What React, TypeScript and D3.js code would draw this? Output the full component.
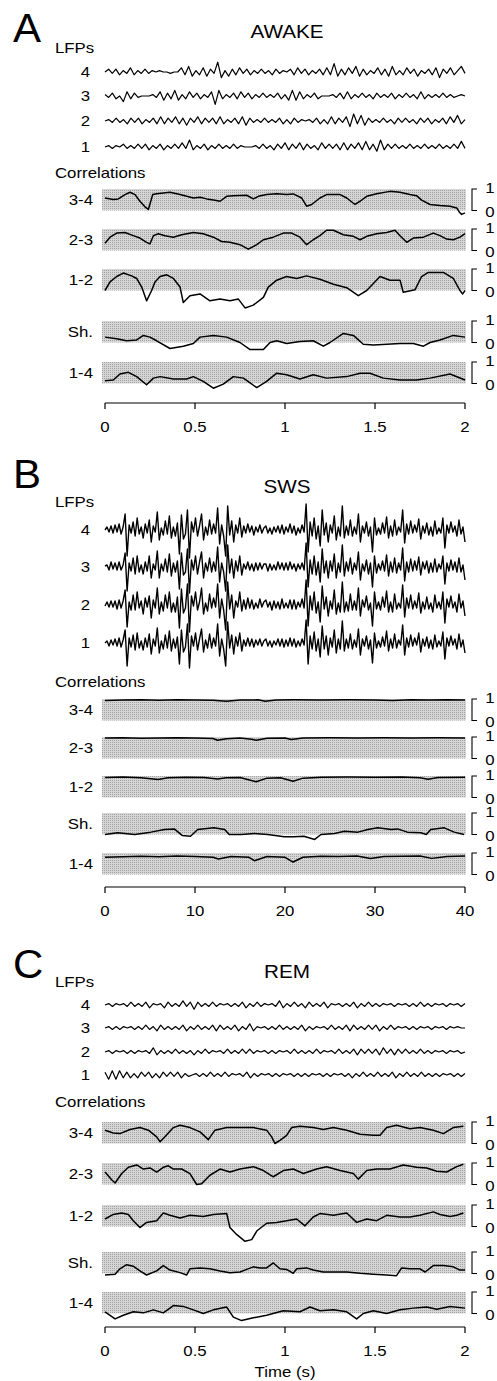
import React from "react";
import * as d3 from "d3";

const FONT = "'Liberation Sans', Arial, Helvetica, sans-serif";

// ---------- Panel A (AWAKE) LFP traces (relative amplitude) ----------
const lfpA4 = [0,2,-1,2,-2,1,-1,3,-2,1,-1,2,-1,1,0,1,0,0,-1,0,0,3,-2,4,-3,1,-2,3,-3,2,-1,7,-4,1,-3,2,-2,3,-1,2,-2,1,-1,2,-1,1,-2,2,-1,1,0,2,-2,3,-1,2,-2,1,-1,2,-2,3,-2,6,-3,2,-2,3,-1,4,-3,2,-2,1,-1,3,-2,2,-3,4,-2,1,-2,3,-1,2,-3,1,-1,2,-2,3,-4,2,-1,3,-2,1,4,-1];
const lfpA3 = [1,-1,2,-2,0,-4,3,-2,2,-1,0,0,0,1,-1,3,-3,2,-2,4,-3,1,-2,3,-1,2,-2,1,-1,3,-6,4,-2,1,-1,2,-2,3,-1,2,-2,1,-1,2,-1,1,-1,2,-2,1,-3,4,-3,3,-2,1,-1,2,-2,0,0,0,1,-1,2,-2,3,-2,1,-1,2,-1,1,-2,2,-1,1,-1,2,-2,1,-1,2,-1,1,-2,3,-2,1,-1,1,-1,2,-1,1,-1,0,1,0];
const lfpA2 = [0,1,-1,2,-1,1,-2,2,-1,2,-2,1,-1,2,-2,3,-2,2,-1,3,-2,2,-3,2,-1,3,-2,2,-1,2,-2,3,-2,1,-1,2,-2,3,-3,2,-1,1,-1,2,-1,1,-1,2,-2,1,-2,2,-1,1,0,1,-1,2,-2,1,-2,3,-2,2,-1,3,-4,5,-2,4,-3,2,-1,1,-1,2,-1,1,-2,2,-1,2,-1,1,-2,2,-1,2,-2,1,-1,2,-2,3,-1,4,-2,1];
const lfpA1 = [0,1,-1,1,0,2,-1,1,-1,2,-1,2,-2,1,-1,2,-2,1,-1,2,-1,3,-1,5,-2,1,-1,2,-2,1,-1,2,-1,1,-1,2,-1,1,0,0,0,1,-1,2,-1,1,-2,2,-1,3,-2,2,-1,3,-2,2,-1,1,-2,3,-1,2,-1,2,-2,3,-2,2,-1,3,-2,4,-2,2,-3,5,-2,2,-1,2,-1,1,-1,2,-1,1,-1,2,-1,1,-1,2,-1,1,-1,2,-1,4,-1];

// ---------- Panel A correlations [time (s), r] ----------
const corrA34 = [[0,0.58],[0.046,0.51],[0.074,0.54],[0.111,0.74],[0.139,0.85],[0.167,0.74],[0.194,0.43],[0.222,0.17],[0.241,0.05],[0.265,0.74],[0.287,0.78],[0.361,0.85],[0.417,0.74],[0.454,0.66],[0.491,0.58],[0.528,0.62],[0.565,0.54],[0.611,0.48],[0.639,0.43],[0.676,0.66],[0.713,0.69],[0.787,0.71],[0.824,0.54],[0.852,0.66],[0.898,0.74],[0.954,0.78],[1.009,0.74],[1.046,0.77],[1.093,0.58],[1.12,0.2],[1.148,0.28],[1.194,0.58],[1.231,0.74],[1.306,0.74],[1.343,0.58],[1.389,0.28],[1.417,0.43],[1.454,0.66],[1.509,0.78],[1.583,0.89],[1.639,0.85],[1.694,0.74],[1.731,0.69],[1.759,0.48],[1.806,0.28],[1.861,0.23],[1.917,0.2],[1.954,0.12],[1.969,-0.08],[1.981,-0.18],[2.0,-0.11]];
const corrA23 = [[0,0.34],[0.028,0.62],[0.065,0.81],[0.111,0.84],[0.157,0.69],[0.194,0.58],[0.231,0.38],[0.25,0.31],[0.269,0.69],[0.296,0.78],[0.333,0.69],[0.38,0.62],[0.426,0.73],[0.491,0.84],[0.546,0.78],[0.602,0.62],[0.648,0.42],[0.694,0.38],[0.75,0.27],[0.796,0.06],[0.843,0.27],[0.88,0.5],[0.935,0.62],[0.991,0.81],[1.037,0.81],[1.083,0.62],[1.12,0.27],[1.157,0.5],[1.194,0.69],[1.231,0.94],[1.269,0.94],[1.324,0.73],[1.38,0.66],[1.417,0.5],[1.454,0.66],[1.509,0.78],[1.565,0.84],[1.611,0.94],[1.639,0.69],[1.676,0.38],[1.713,0.58],[1.769,0.62],[1.824,0.81],[1.861,0.69],[1.898,0.53],[1.935,0.5],[1.972,0.62],[2.0,0.78]];
const corrA12 = [[0,0.0],[0.028,0.4],[0.065,0.65],[0.102,0.81],[0.148,0.68],[0.176,0.56],[0.204,0.16],[0.231,-0.48],[0.259,0.0],[0.278,0.4],[0.306,0.65],[0.343,0.73],[0.38,0.56],[0.417,0.16],[0.435,-0.56],[0.472,-0.24],[0.528,-0.16],[0.583,-0.48],[0.639,-0.4],[0.694,-0.48],[0.741,-0.4],[0.778,-0.81],[0.824,-0.68],[0.88,-0.32],[0.907,0.16],[0.954,0.48],[1.009,0.65],[1.065,0.56],[1.12,0.68],[1.194,0.52],[1.269,0.29],[1.343,0.13],[1.407,-0.24],[1.454,0.0],[1.528,0.65],[1.583,0.48],[1.639,0.48],[1.657,-0.08],[1.722,0.03],[1.759,0.65],[1.796,0.84],[1.88,0.84],[1.935,0.56],[1.972,0.0],[1.987,-0.16],[2.0,0.0]];
const corrASh = [[0,0.25],[0.065,0.17],[0.12,0.08],[0.176,0.12],[0.213,0.33],[0.25,0.25],[0.287,0.08],[0.361,-0.28],[0.435,-0.17],[0.491,-0.05],[0.528,0.25],[0.602,0.33],[0.676,0.25],[0.75,0.0],[0.806,-0.33],[0.88,-0.33],[0.917,0.0],[0.954,0.08],[1.009,-0.05],[1.083,0.05],[1.157,0.08],[1.213,-0.17],[1.25,0.0],[1.324,0.42],[1.38,0.33],[1.435,-0.08],[1.491,-0.12],[1.565,-0.08],[1.639,-0.05],[1.713,-0.05],[1.769,-0.17],[1.806,0.0],[1.861,0.12],[1.935,0.33],[2.0,0.25]];
const corrA14 = [[0,0.13],[0.046,0.16],[0.083,0.44],[0.13,0.52],[0.176,0.32],[0.231,-0.06],[0.269,0.25],[0.306,0.32],[0.38,0.21],[0.454,0.21],[0.491,0.32],[0.546,0.1],[0.602,-0.22],[0.657,-0.03],[0.713,0.32],[0.769,0.25],[0.843,-0.19],[0.898,0.1],[0.954,0.48],[1.009,0.41],[1.083,0.21],[1.157,0.41],[1.231,0.25],[1.343,0.32],[1.417,0.48],[1.472,0.48],[1.546,0.25],[1.639,0.16],[1.731,0.16],[1.806,0.25],[1.917,0.44],[2.0,0.16]];

// ---------- Panel B (SWS) LFP traces ----------
const lfpB4 = [
  0,3,-2,4,-3,5,-2,6,-4,3, 16,-26,5,-3,8,-6,12,-4,3,-8, 6,-3,10,-12,4,-2,18,-10,2,-5,
  9,-4,14,-8,3,-6,7,-24,15,-9, -4,20,-28,8,-2,12,-6,4,16,-10, 3,-5,10,-4,6,-3,22,-14,5,-6,
  -26,24,-5,9,-12,5,-3,12,-7,4, -3,6,-2,4,-5,3,-2,5,-3,2, 4,-3,2,-4,3,-2,4,-3,5,-4,
  3,-2,6,-3,4,-5,2,-3,5,-2, 26,-22,8,-6,12,-9,4,-16,20,-5, 7,-12,5,-3,14,-10,3,-6,24,-8,
  4,-5,10,-6,3,-4,16,-12,4,-3, 8,-6,3,-22,12,-5,2,-4,7,-3, 13,-8,4,-6,10,-5,3,-2,20,-13,
  6,-4,9,-3,5,-2,11,-9,4,-3, 7,-5,3,-6,9,-4,2,-3,12,-18, 5,-3,8,-2,4,-6,10,-4,3,-12];
const lfpB3 = [
  1,2,-3,5,-2,4,-3,5,-3,2, 14,-24,4,-4,9,-7,11,-5,2,-7, 5,-4,11,-11,3,-3,16,-11,3,-4,
  8,-5,13,-9,4,-5,6,-22,14,-8, -5,18,-26,7,-3,11,-7,5,15,-11, 4,-4,9,-5,5,-4,20,-15,4,-5,
  -24,22,-6,8,-11,6,-4,11,-8,3, -2,5,-3,3,-4,4,-3,4,-2,3, 3,-4,3,-3,2,-3,5,-2,4,-3,
  4,-3,5,-2,3,-4,3,-2,4,-3, 24,-20,7,-7,11,-8,5,-15,18,-6, 6,-11,6,-4,13,-11,4,-5,22,-9,
  5,-4,9,-7,4,-3,15,-13,3,-4, 7,-7,4,-20,11,-6,3,-3,6,-4, 12,-9,5,-5,9,-6,4,-3,19,-14,
  5,-5,8,-4,6,-3,10,-8,5,-2, 6,-6,4,-5,8,-5,3,-2,11,-17, 4,-4,7,-3,5,-5,9,-5,2,-13];
const lfpB2 = [
  -1,3,-2,4,-2,4,-4,5,-3,4, 15,-22,3,-5,10,-5,13,-3,4,-9, 7,-2,9,-13,5,-3,17,-9,3,-6,
  10,-3,13,-7,2,-7,8,-23,16,-8, -3,21,-27,9,-1,13,-5,3,17,-9, 2,-6,11,-3,7,-2,21,-13,6,-5,
  -25,23,-4,10,-13,4,-2,13,-6,5, -4,7,-3,5,-4,2,-3,6,-2,3, 5,-2,3,-5,4,-3,3,-4,6,-3,
  2,-3,5,-4,5,-4,3,-2,6,-3, 25,-21,9,-5,13,-8,3,-17,19,-4, 8,-11,4,-4,15,-9,2,-7,23,-7,
  3,-6,11,-5,4,-5,17,-11,5,-2, 9,-5,2,-21,13,-4,3,-5,8,-2, 14,-7,3,-7,11,-4,2,-3,20,-12,
  7,-3,10,-4,4,-3,12,-8,3,-4, 8,-4,2,-7,10,-3,3,-4,13,-18, 6,-2,9,-3,3,-7,11,-3,4,-11];
const lfpB1 = [
  0,2,-3,3,-2,4,-3,5,-4,3, 13,-23,5,-4,8,-7,10,-5,2,-7, 5,-4,9,-11,4,-3,15,-10,2,-6,
  8,-5,12,-8,4,-5,6,-21,13,-9, -4,19,-25,7,-3,10,-7,4,14,-9, 3,-5,9,-5,5,-3,19,-13,4,-6,
  -23,21,-5,8,-11,6,-3,10,-8,3, -3,5,-3,4,-4,3,-2,4,-3,2, 4,-3,2,-4,2,-2,4,-3,4,-4,
  3,-3,5,-3,4,-4,2,-3,4,-2, 23,-21,7,-6,11,-8,4,-14,17,-6, 7,-12,5,-4,13,-10,4,-6,22,-8,
  4,-5,9,-6,3,-4,14,-12,4,-3, 7,-6,3,-20,10,-5,2,-4,6,-3, 12,-8,4,-5,9,-5,3,-2,18,-12,
  5,-4,8,-3,5,-2,10,-9,4,-3, 6,-5,3,-6,8,-4,2,-3,11,-16, 5,-3,7,-2,4,-6,9,-4,3,-10];

// ---------- Panel B correlations [time (s), r] ----------
const corrB34 = [[0,0.93],[2,0.95],[4,0.96],[6,0.94],[8,0.96],[10,0.95],[12,0.94],[13.5,0.9],[15,0.95],[17,0.96],[17.8,0.9],[19,0.95],[21,0.96],[24,0.95],[27,0.96],[30,0.95],[32,0.93],[34,0.96],[36,0.95],[38,0.96],[40,0.95]];
const corrB23 = [[0,0.95],[2,0.96],[4,0.94],[6,0.95],[8,0.96],[10,0.95],[12,0.93],[12.5,0.85],[13.5,0.92],[15,0.95],[16.3,0.9],[16.8,0.85],[18,0.94],[20,0.95],[20.7,0.88],[22,0.95],[25,0.96],[28,0.95],[31,0.96],[34,0.95],[37,0.96],[40,0.95]];
const corrB12 = [[0,0.93],[2,0.95],[4,0.92],[5.9,0.84],[7,0.92],[9,0.94],[11,0.93],[12.5,0.86],[13.5,0.92],[15,0.93],[16.8,0.73],[18,0.9],[19.5,0.92],[20.9,0.76],[22,0.9],[24,0.94],[27,0.95],[30,0.94],[33,0.95],[35,0.92],[35.9,0.85],[37,0.93],[40,0.94]];
const corrBSh = [[0,0.0],[1.4,0.08],[3.3,0.0],[5.1,0.11],[6.6,0.23],[7.7,0.26],[8.6,-0.05],[9.5,-0.08],[10.3,0.23],[12.1,0.31],[13.3,0.23],[13.8,0.0],[15.1,0.0],[16.6,0.05],[18.1,0.0],[19.9,-0.11],[21.0,-0.11],[22.1,-0.08],[23.3,-0.23],[24.0,0.0],[25.5,0.05],[26.6,0.15],[28.1,0.11],[29.2,0.23],[30.3,0.31],[31.8,0.23],[32.5,0.26],[33.6,0.11],[35.1,0.08],[35.7,0.0],[36.2,0.23],[37.7,0.31],[38.8,0.11],[39.9,0.0]];
const corrB14 = [[0,0.8],[2,0.83],[4,0.85],[6,0.82],[8,0.86],[10,0.84],[12,0.8],[12.6,0.72],[14,0.84],[16,0.8],[16.6,0.64],[18,0.84],[20,0.8],[20.9,0.58],[22,0.8],[24,0.85],[26,0.84],[28,0.86],[29.5,0.74],[31,0.84],[33,0.85],[35,0.86],[36.3,0.75],[38,0.84],[40,0.86]];

// ---------- Panel C (REM) LFP traces ----------
const lfpC4 = [0,1,-1,1,0,1,-1,2,-1,1,-1,2,-2,1,0,1,-2,2,-1,1,-1,3,-1,2,-3,2,-1,1,-1,2,-1,1,0,1,-1,1,-1,2,-2,1,-1,2,-1,1,0,1,-1,3,-2,1,-1,2,-1,1,-2,2,-1,1,-1,2,-2,1,0,1,-1,1,-1,2,-2,1,-1,2,-1,1,-1,1,0,1,-1,1,0,1,-1,1,-1,2,-1,1,-1,1,0,1,-1,1,0,1,-1,1];
const lfpC3 = [0,1,-1,1,-1,1,0,1,-1,1,-1,2,-1,1,-2,2,-1,1,-1,1,-1,2,-2,1,-1,2,-1,1,-1,2,-2,2,-1,1,-1,2,-2,1,-1,3,-2,1,0,1,-1,1,-1,2,-1,1,-1,1,-1,2,-2,1,-1,1,0,1,-1,2,-1,1,-1,2,-2,2,-1,1,-1,2,-1,2,-2,1,-1,2,-1,1,0,1,-1,1,-1,1,0,1,-1,1,0,1,-1,1,0,1,0,0];
const lfpC2 = [0,1,-1,1,0,1,-1,1,-1,1,0,1,-1,3,-2,1,-1,1,-1,2,-1,1,-1,1,-2,1,-1,2,-1,1,0,1,-1,2,-1,1,-1,2,-1,2,-1,1,0,1,-1,1,-1,1,0,1,-1,2,-1,1,-1,1,-1,2,-1,1,0,1,-1,2,-1,1,-1,2,-2,2,-1,2,-1,2,-2,3,-1,2,-2,2,-1,2,-1,1,-1,2,-1,1,-1,1,0,1,-1,1,0,1,-1,0];
const lfpC1 = [2,-3,3,-3,3,-2,2,-2,1,-2,2,-1,2,-2,1,-2,2,-1,2,-1,2,-2,1,-1,0,1,-1,1,-1,2,-1,1,-1,2,-1,1,0,1,-1,2,-2,1,-1,1,0,1,-1,1,-1,1,0,1,-1,1,-1,1,-1,1,0,1,-1,1,-1,1,0,1,-1,1,-2,1,-1,2,-1,1,-1,2,-1,1,-1,2,-2,1,-1,2,-1,1,-1,2,-1,1,-1,1,-1,1,0,1,-1,1,-1,1];

// ---------- Panel C correlations [time (s), r] ----------
const corrC34 = [[0,0.62],[0.046,0.49],[0.083,0.46],[0.139,0.65],[0.194,0.74],[0.241,0.62],[0.287,0.31],[0.306,0.08],[0.333,0.31],[0.38,0.74],[0.417,0.85],[0.472,0.74],[0.528,0.54],[0.574,0.18],[0.611,0.62],[0.676,0.74],[0.75,0.74],[0.824,0.74],[0.898,0.62],[0.926,0.31],[0.944,0.0],[0.972,0.15],[1.009,0.38],[1.037,0.74],[1.083,0.8],[1.157,0.74],[1.213,0.65],[1.269,0.74],[1.343,0.62],[1.417,0.43],[1.491,0.38],[1.528,0.38],[1.565,0.74],[1.62,0.85],[1.694,0.69],[1.75,0.74],[1.824,0.62],[1.88,0.46],[1.935,0.74],[1.991,0.8]];
const corrC23 = [[0,0.58],[0.037,0.22],[0.056,0.07],[0.093,0.51],[0.13,0.8],[0.176,0.91],[0.213,0.72],[0.25,0.77],[0.287,0.58],[0.324,0.8],[0.352,0.87],[0.38,0.72],[0.426,0.72],[0.472,0.51],[0.509,0.0],[0.537,0.04],[0.583,0.43],[0.639,0.72],[0.694,0.58],[0.75,0.72],[0.824,0.83],[0.88,0.65],[0.935,0.36],[0.991,0.65],[1.046,0.72],[1.102,0.51],[1.176,0.72],[1.231,0.83],[1.306,0.65],[1.38,0.51],[1.407,0.25],[1.454,0.65],[1.509,0.72],[1.583,0.72],[1.657,0.91],[1.731,0.8],[1.787,0.77],[1.843,0.62],[1.898,0.58],[1.954,0.83],[1.991,0.94]];
const corrC12 = [[0,0.35],[0.046,0.56],[0.093,0.63],[0.13,0.56],[0.157,0.27],[0.194,-0.05],[0.231,0.19],[0.287,0.27],[0.324,0.63],[0.361,0.52],[0.417,0.4],[0.472,0.52],[0.546,0.47],[0.602,0.56],[0.676,0.61],[0.694,-0.05],[0.731,-0.37],[0.778,-0.69],[0.815,-0.61],[0.843,-0.21],[0.898,0.15],[0.954,0.19],[1.009,0.27],[1.065,0.35],[1.111,0.03],[1.157,0.44],[1.194,0.6],[1.269,0.52],[1.343,0.63],[1.398,0.19],[1.454,0.35],[1.509,0.27],[1.565,0.52],[1.639,0.44],[1.694,0.44],[1.75,0.52],[1.824,0.68],[1.861,0.56],[1.917,0.47],[1.954,0.52],[1.991,0.63]];
const corrCSh = [[0,-0.07],[0.056,-0.03],[0.083,0.22],[0.12,0.41],[0.157,0.34],[0.194,0.12],[0.231,-0.07],[0.287,0.12],[0.324,0.37],[0.361,0.16],[0.417,0.04],[0.454,-0.07],[0.472,0.22],[0.528,0.26],[0.583,0.22],[0.639,0.12],[0.694,0.04],[0.75,0.07],[0.787,0.19],[0.824,0.31],[0.861,0.26],[0.898,0.26],[0.935,0.49],[0.972,0.22],[1.009,0.19],[1.046,0.01],[1.065,0.22],[1.12,0.26],[1.157,0.16],[1.213,0.07],[1.269,0.07],[1.343,0.07],[1.417,0.01],[1.491,-0.03],[1.565,-0.07],[1.62,-0.1],[1.648,0.26],[1.694,0.22],[1.75,0.22],[1.778,0.07],[1.824,0.37],[1.88,0.37],[1.935,0.31],[1.972,0.16],[2.0,0.16]];
const corrC14 = [[0,0.08],[0.056,-0.25],[0.102,-0.08],[0.157,0.08],[0.213,0.03],[0.269,0.17],[0.324,0.03],[0.38,0.37],[0.435,0.33],[0.491,0.17],[0.546,0.0],[0.602,0.17],[0.676,0.3],[0.713,-0.17],[0.759,-0.33],[0.824,-0.2],[0.898,-0.08],[0.991,0.13],[1.083,0.08],[1.139,0.3],[1.194,0.13],[1.269,0.17],[1.343,0.08],[1.398,-0.25],[1.435,0.0],[1.491,0.13],[1.565,0.0],[1.639,0.17],[1.713,0.25],[1.787,0.3],[1.843,0.2],[1.917,0.33],[2.0,0.25]];

// ---------- labels & ticks ----------
const channelLabels = ["4", "3", "2", "1"];
const pairLabels = ["3-4", "2-3", "1-2", "Sh.", "1-4"];
const ticksA = [0, 0.5, 1, 1.5, 2];
const ticksB = [0, 10, 20, 30, 40];
const ticksC = [0, 0.5, 1, 1.5, 2];

type PanelCfg = {
  letter: string; letterY: number; title: string; titleY: number; lfpsY: number;
  rowYs: number[]; lfp: number[][]; lfpGain: number; lfpW: number;
  corrTextY: number; bandTops: number[]; corr: number[][][];
  domain: [number, number]; ticks: number[]; axisY: number; xlabel?: string;
};

const panels: PanelCfg[] = [
  { letter: "A", letterY: 42, title: "AWAKE", titleY: 38, lfpsY: 53,
    rowYs: [72, 96, 121, 147], lfp: [lfpA4, lfpA3, lfpA2, lfpA1], lfpGain: 1.4, lfpW: 1.2,
    corrTextY: 178, bandTops: [189, 229, 269, 321, 362], corr: [corrA34, corrA23, corrA12, corrASh, corrA14],
    domain: [0, 2], ticks: ticksA, axisY: 403 },
  { letter: "B", letterY: 488, title: "SWS", titleY: 493, lfpsY: 507,
    rowYs: [530, 567, 605, 643], lfp: [lfpB4, lfpB3, lfpB2, lfpB1], lfpGain: 1.0, lfpW: 1.4,
    corrTextY: 687, bandTops: [699, 737, 776, 813, 853], corr: [corrB34, corrB23, corrB12, corrBSh, corrB14],
    domain: [0, 40], ticks: ticksB, axisY: 887 },
  { letter: "C", letterY: 978, title: "REM", titleY: 978, lfpsY: 987,
    rowYs: [1005, 1028, 1052, 1075], lfp: [lfpC4, lfpC3, lfpC2, lfpC1], lfpGain: 1.4, lfpW: 1.2,
    corrTextY: 1107, bandTops: [1122, 1163, 1205, 1252, 1292], corr: [corrC34, corrC23, corrC12, corrCSh, corrC14],
    domain: [0, 2], ticks: ticksC, axisY: 1327, xlabel: "Time (s)" },
];

const X0 = 105, X1 = 465, BAND_X0 = 102, BAND_X1 = 466, BAND_H = 21.5;

function Txt({ x, y, children, size = 14, anchor = "start", sx = 1.2 }: any) {
  return (
    <text transform={`translate(${x},${y}) scale(${sx},1)`} fontSize={size}
      textAnchor={anchor} fontFamily={FONT} fill="#000">{children}</text>
  );
}

function Panel({ p }: { p: PanelCfg }) {
  const x = d3.scaleLinear().domain(p.domain).range([X0, X1]);
  const fmt = (v: number) => String(v);
  return (
    <g>
      <Txt x={13} y={p.letterY} size={40} sx={1.05}>{p.letter}</Txt>
      <Txt x={55} y={p.lfpsY} size={14}>LFPs</Txt>
      <Txt x={287} y={p.titleY} size={18} anchor="middle" sx={1.15}>{p.title}</Txt>
      {p.lfp.map((arr, i) => {
        const xi = d3.scaleLinear().domain([0, arr.length - 1]).range([X0, X1]);
        const yi = d3.scaleLinear().domain([-1, 1]).range([p.rowYs[i] + p.lfpGain, p.rowYs[i] - p.lfpGain]);
        const line = d3.line<number>().x((_, k) => xi(k)).y((v) => yi(v)).curve(d3.curveLinear);
        return (
          <g key={"l" + i}>
            <Txt x={90} y={p.rowYs[i] + 5} anchor="end">{channelLabels[i]}</Txt>
            <path d={line(arr) || ""} fill="none" stroke="#000" strokeWidth={p.lfpW} strokeLinejoin="round" />
          </g>
        );
      })}
      <Txt x={55} y={p.corrTextY}>Correlations</Txt>
      {p.corr.map((arr, i) => {
        const top = p.bandTops[i];
        const y = d3.scaleLinear().domain([0, 1]).range([top + BAND_H, top]);
        const line = d3.line<number[]>().x((d) => x(d[0])).y((d) => y(d[1]));
        return (
          <g key={"c" + i}>
            <rect x={BAND_X0} y={top} width={BAND_X1 - BAND_X0} height={BAND_H} fill="url(#stip)" />
            <Txt x={93} y={top + BAND_H / 2 + 5} anchor="end">{pairLabels[i]}</Txt>
            <path d={line(arr as any) || ""} fill="none" stroke="#000" strokeWidth={1.5} strokeLinejoin="round" />
            <path d={`M${477},${y(1)}H${472}V${y(0)}H${477}`} fill="none" stroke="#000" strokeWidth={1.1} />
            <Txt x={490} y={y(1) + 4} anchor="middle">1</Txt>
            <Txt x={490} y={y(0) + 6} anchor="middle">0</Txt>
          </g>
        );
      })}
      <g>
        <line x1={x(p.domain[0])} x2={x(p.domain[1])} y1={p.axisY} y2={p.axisY} stroke="#000" strokeWidth={1.2} />
        {p.ticks.map((t) => (
          <g key={"t" + t}>
            <line x1={x(t)} x2={x(t)} y1={p.axisY} y2={p.axisY + 6} stroke="#000" strokeWidth={1.2} />
            <Txt x={x(t)} y={p.axisY + 29} anchor="middle">{fmt(t)}</Txt>
          </g>
        ))}
        {p.xlabel && <Txt x={x((p.domain[0] + p.domain[1]) / 2)} y={p.axisY + 50} anchor="middle">{p.xlabel}</Txt>}
      </g>
    </g>
  );
}

export default function App() {
  return (
    <svg width={497} height={1381} style={{ position: "absolute", left: 0, top: 0, background: "#fff" }}>
      <defs>
        <pattern id="stip" width={2} height={2} patternUnits="userSpaceOnUse">
          <rect width={2} height={2} fill="#d6d6d6" />
          <rect x={0} y={0} width={1} height={1} fill="#a2a2a2" />
        </pattern>
      </defs>
      <rect width={497} height={1381} fill="#fff" />
      {panels.map((p) => <Panel key={p.letter} p={p} />)}
    </svg>
  );
}
